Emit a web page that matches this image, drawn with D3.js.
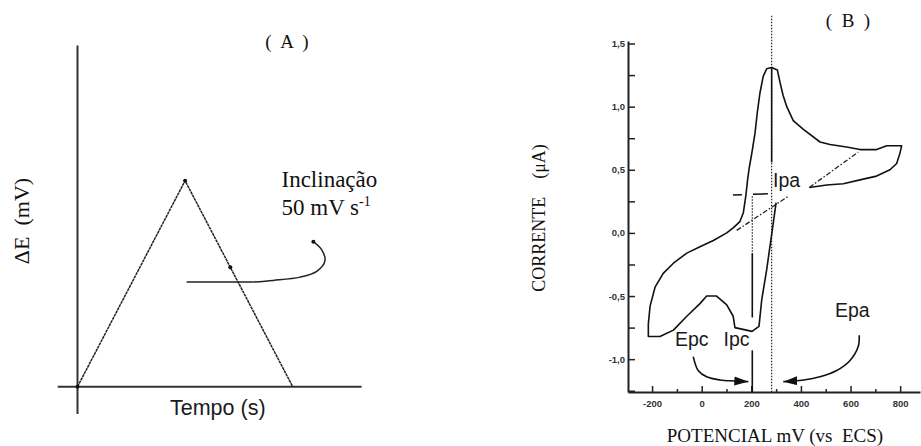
<!DOCTYPE html>
<html>
<head>
<meta charset="utf-8">
<script src="https://cdn.jsdelivr.net/npm/d3@7"></script>
<style>
  body { margin: 0; background: #fff; }
  svg { display: block; }
  .serif { font-family: "Liberation Serif", "Times New Roman", serif; fill: #111; }
  .sans { font-family: "Liberation Sans", Arial, sans-serif; fill: #1a1a1a; }
  .tick text { font-family: "Liberation Sans", Arial, sans-serif; font-size: 9.5px; font-weight: bold; fill: #333; }
  .tick line { stroke: #222; stroke-width: 1.5; }
  .domain { stroke: #222; stroke-width: 2; }
</style>
</head>
<body>
<svg id="chart" width="921" height="446"></svg>
<script>
// ---------- panel A : triangular sweep ----------
const sweepTime = [0, 5, 10];          // s
const sweepE = [0, 250, 0];            // mV
const dotTime = [0, 5, 7.1];
const dotE = [0, 250, 145];
// annotation leader for the slope (straight part, then hook)
const leaderTime = [5.07, 8.17, 9.1, 10.34, 11.12, 11.5, 11.35, 10.96];
const leaderE = [127, 127, 129, 133, 140, 153, 166, 176];

// ---------- panel B : cyclic voltammogram ----------
const cvPotential = [300, 275, 262, 242, 231, 203, 134, 127, 101, 60, 20, -7, -60, -114, -168, -215,
  -215, -208, -188, -155, -114, -60, -7, 47, 101, 127, 154, 168, 179, 185, 192, 202, 215, 224, 235,
  248, 262, 282, 305, 316, 328, 343, 369, 410, 477, 517, 584, 638, 705, 746, 806,
  799, 786, 759, 705, 638, 571, 504, 434];
const cvCurrent = [0.24, -0.11, -0.29, -0.53, -0.74, -0.78, -0.75, -0.66, -0.57, -0.50, -0.50, -0.56, -0.66, -0.77, -0.82, -0.82,
  -0.72, -0.58, -0.43, -0.32, -0.24, -0.16, -0.11, -0.06, 0.00, 0.04, 0.09, 0.16, 0.31, 0.42, 0.52, 0.63, 0.79, 0.95, 1.11,
  1.24, 1.30, 1.31, 1.29, 1.19, 1.09, 1.00, 0.89, 0.82, 0.72, 0.70, 0.68, 0.66, 0.66, 0.69, 0.69,
  0.63, 0.55, 0.50, 0.45, 0.42, 0.39, 0.38, 0.36];

const baseLeftPotential = [141, 349];     // dash-dot baseline (anodic)
const baseLeftCurrent = [0.02, 0.29];
const baseRightPotential = [434, 631];
const baseRightCurrent = [0.36, 0.64];
const ipaBasePotential = [126, 267];      // dashed level
const ipaBaseCurrent = [0.30, 0.31];

const Epa = 282, Epc = 204;
const ipaTop = 1.31, ipaBottom = 0.56;
const epcDotTop = 0.29, ipcTop = -0.16, ipcBottom = -0.67, epcLowTop = -0.93;

const arrowEpcPotential = [-34, -14, 20, 74, 134, 188];
const arrowEpcCurrent = [-0.98, -1.09, -1.14, -1.165, -1.173, -1.178];
const arrowEpaPotential = [635, 631, 598, 544, 477, 410, 329];
const arrowEpaCurrent = [-0.81, -0.90, -1.01, -1.09, -1.14, -1.165, -1.178];

const yTicksMajor = [-1.0, -0.5, 0.0, 0.5, 1.0, 1.5];
const yTicksMinor = [-1.25, -0.75, -0.25, 0.25, 0.75, 1.25];
const xTicksMajor = [-200, 0, 200, 400, 600, 800];
const xTicksMinor = [-100, 100, 300, 500, 700];

const svg = d3.select("#chart");

// ===== Panel A =====
const xA = d3.scaleLinear().domain([0, 10]).range([77.5, 292.7]);
const yA = d3.scaleLinear().domain([0, 250]).range([386.7, 180.7]);
const gA = svg.append("g");

// axes (plain crossing lines)
gA.append("line")
  .attr("x1", xA(0)).attr("x2", xA(0))
  .attr("y1", yA(-33)).attr("y2", yA(414))
  .attr("stroke", "#333").attr("stroke-width", 2);
gA.append("line")
  .attr("x1", xA(-0.92)).attr("x2", xA(13.2))
  .attr("y1", yA(0)).attr("y2", yA(0))
  .attr("stroke", "#333").attr("stroke-width", 2);

const lineA = d3.line().x((d) => xA(d[0])).y((d) => yA(d[1]));
gA.append("path")
  .datum(d3.zip(sweepTime, sweepE))
  .attr("d", lineA)
  .attr("fill", "none").attr("stroke", "#222").attr("stroke-width", 1.5)
  .attr("stroke-dasharray", "3,0.6");

gA.selectAll(".dotA")
  .data(d3.zip(dotTime, dotE))
  .enter().append("circle")
  .attr("cx", (d) => xA(d[0])).attr("cy", (d) => yA(d[1]))
  .attr("r", 2).attr("fill", "#111");

const leader = d3.zip(leaderTime, leaderE);
gA.append("path")
  .datum(leader.slice(0, 2))
  .attr("d", lineA)
  .attr("fill", "none").attr("stroke", "#222").attr("stroke-width", 1.5);
gA.append("path")
  .datum(leader.slice(1))
  .attr("d", d3.line().x((d) => xA(d[0])).y((d) => yA(d[1])).curve(d3.curveCatmullRom.alpha(0.5)))
  .attr("fill", "none").attr("stroke", "#222").attr("stroke-width", 1.5);
gA.append("circle")
  .attr("cx", xA(leaderTime[leaderTime.length - 1])).attr("cy", yA(leaderE[leaderE.length - 1]))
  .attr("r", 2).attr("fill", "#111");

gA.append("text").attr("class", "serif")
  .attr("x", 287).attr("y", 48).attr("text-anchor", "middle")
  .style("font-size", "19px").style("white-space", "pre")
  .text("(  A  )");
gA.append("text").attr("class", "serif")
  .attr("x", 281.5).attr("y", 186.5)
  .style("font-size", "23px").text("Inclinação");
const slopeText = gA.append("text").attr("class", "serif")
  .attr("x", 281.5).attr("y", 215).style("font-size", "23px");
slopeText.append("tspan").text("50 mV s");
slopeText.append("tspan").attr("dy", -9).style("font-size", "14px").text("-1");

gA.append("text").attr("class", "serif")
  .attr("transform", "translate(29,221) rotate(-90)")
  .attr("text-anchor", "middle").style("font-size", "22px").style("white-space", "pre")
  .text("ΔE  (mV)");
gA.append("text").attr("class", "sans")
  .attr("x", 170).attr("y", 414.5)
  .style("font-size", "21.5px").text("Tempo (s)");

// ===== Panel B =====
const x = d3.scaleLinear().domain([-297, 880]).range([628, 920]);
const y = d3.scaleLinear().domain([-1.26, 1.52]).range([392, 41]);
const gB = svg.append("g");
const fmtY = (d) => d3.format(".1f")(d).replace(".", ",").replace("−", "-");

gB.append("g")
  .attr("transform", `translate(${x.range()[0]},0)`)
  .call(d3.axisLeft(y).tickValues(yTicksMinor).tickSize(-7).tickSizeOuter(0).tickFormat(""))
  .call((g) => g.select(".domain").remove());
gB.append("g")
  .attr("transform", `translate(${x.range()[0]},0)`)
  .call(d3.axisLeft(y).tickValues(yTicksMajor).tickSize(-7).tickSizeOuter(0).tickPadding(3).tickFormat(fmtY));

gB.append("g")
  .attr("transform", `translate(0,${y.range()[0]})`)
  .call(d3.axisBottom(x).tickValues(xTicksMinor).tickSize(-3).tickSizeOuter(0).tickFormat(""))
  .call((g) => g.select(".domain").remove());
gB.append("g")
  .attr("transform", `translate(0,${y.range()[0]})`)
  .call(d3.axisBottom(x).tickValues(xTicksMajor).tickSize(-6).tickSizeOuter(0).tickPadding(8)
    .tickFormat((d) => String(d)));

// vertical guide lines at Epa and Epc
gB.append("line")
  .attr("x1", x(Epa)).attr("x2", x(Epa)).attr("y1", y(1.72)).attr("y2", y(-1.26))
  .attr("stroke", "#222").attr("stroke-width", 1.2).attr("stroke-dasharray", "1.5,1.5");
gB.append("line")
  .attr("x1", x(Epa)).attr("x2", x(Epa)).attr("y1", y(ipaTop)).attr("y2", y(ipaBottom))
  .attr("stroke", "#111").attr("stroke-width", 1.6);
gB.append("line")
  .attr("x1", x(Epc)).attr("x2", x(Epc)).attr("y1", y(epcDotTop)).attr("y2", y(ipcTop))
  .attr("stroke", "#222").attr("stroke-width", 1.2).attr("stroke-dasharray", "1.5,1.5");
gB.append("line")
  .attr("x1", x(Epc)).attr("x2", x(Epc)).attr("y1", y(ipcTop)).attr("y2", y(ipcBottom))
  .attr("stroke", "#111").attr("stroke-width", 1.6);
gB.append("line")
  .attr("x1", x(Epc)).attr("x2", x(Epc)).attr("y1", y(epcLowTop)).attr("y2", y(-1.26))
  .attr("stroke", "#111").attr("stroke-width", 1.6);

const lineB = d3.line().x((d) => x(d[0])).y((d) => y(d[1]));

// baselines
gB.append("path").datum(d3.zip(baseLeftPotential, baseLeftCurrent)).attr("d", lineB)
  .attr("fill", "none").attr("stroke", "#222").attr("stroke-width", 1.3).attr("stroke-dasharray", "5,2,1.5,2");
gB.append("path").datum(d3.zip(baseRightPotential, baseRightCurrent)).attr("d", lineB)
  .attr("fill", "none").attr("stroke", "#222").attr("stroke-width", 1.3).attr("stroke-dasharray", "5,2,1.5,2");
gB.append("path").datum(d3.zip(ipaBasePotential, ipaBaseCurrent)).attr("d", lineB)
  .attr("fill", "none").attr("stroke", "#111").attr("stroke-width", 1.5).attr("stroke-dasharray", "9,11,16");

// voltammogram
gB.append("path").datum(d3.zip(cvPotential, cvCurrent)).attr("d", lineB)
  .attr("fill", "none").attr("stroke", "#111").attr("stroke-width", 1.6).attr("stroke-linejoin", "round");

// arrows
svg.append("defs").append("marker")
  .attr("id", "head").attr("markerUnits", "userSpaceOnUse")
  .attr("viewBox", "0 0 14 10").attr("refX", 14).attr("refY", 5)
  .attr("markerWidth", 14).attr("markerHeight", 10).attr("orient", "auto")
  .append("path").attr("d", "M0,0.5 L14,5 L0,9.5 Z").attr("fill", "#111");

const arrowLine = d3.line().x((d) => x(d[0])).y((d) => y(d[1])).curve(d3.curveCatmullRom);
gB.append("path").datum(d3.zip(arrowEpcPotential, arrowEpcCurrent)).attr("d", arrowLine)
  .attr("fill", "none").attr("stroke", "#111").attr("stroke-width", 1.6).attr("marker-end", "url(#head)");
gB.append("path").datum(d3.zip(arrowEpaPotential, arrowEpaCurrent)).attr("d", arrowLine)
  .attr("fill", "none").attr("stroke", "#111").attr("stroke-width", 1.6).attr("marker-end", "url(#head)");

// labels
const lab = (t, px, py) => gB.append("text").attr("class", "sans")
  .attr("x", px).attr("y", py).style("font-size", "19.5px").text(t);
lab("Ipa", 773, 186.5);
lab("Epc", 675, 346);
lab("Ipc", 723.5, 346);
lab("Epa", 835, 316.5);

gB.append("text").attr("class", "serif")
  .attr("x", 848).attr("y", 27).attr("text-anchor", "middle")
  .style("font-size", "19px").style("white-space", "pre")
  .text("(  B  )");
gB.append("text").attr("class", "serif")
  .attr("transform", "translate(545,218) rotate(-90)")
  .attr("text-anchor", "middle").style("font-size", "18px").style("white-space", "pre")
  .text("CORRENTE    (μA)");
gB.append("text").attr("class", "serif")
  .attr("x", 775).attr("y", 442).attr("text-anchor", "middle")
  .style("font-size", "19px").style("white-space", "pre")
  .text("POTENCIAL mV (vs  ECS)");
</script>
</body>
</html>
